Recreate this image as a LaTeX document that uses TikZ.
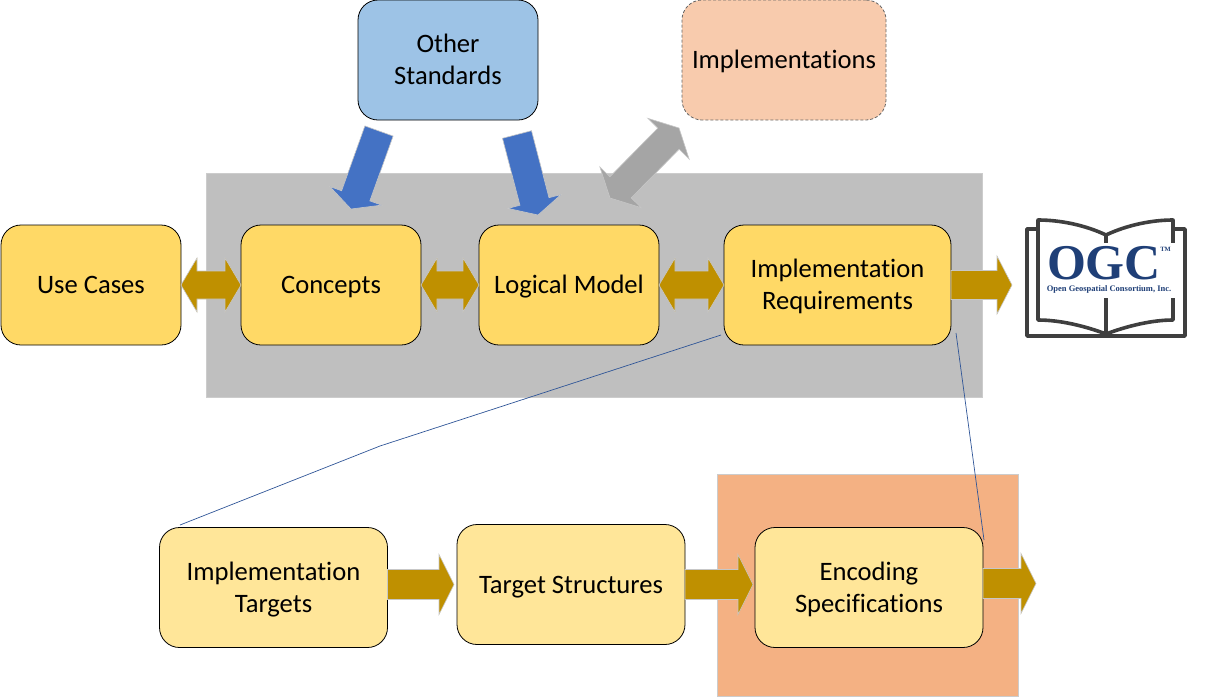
\documentclass[tikz,border=0pt]{standalone}
\usepackage{fontspec}
\setmainfont{Carlito}[Ligatures=NoCommon]
\newfontfamily\logofont{Liberation Serif}
\usetikzlibrary{calc}
\definecolor{panelgray}{HTML}{BFBFBF}
\definecolor{panelorange}{HTML}{F4B183}
\definecolor{boxgold}{HTML}{FFD966}
\definecolor{boxpale}{HTML}{FFE699}
\definecolor{boxblue}{HTML}{9DC3E6}
\definecolor{boxpeach}{HTML}{F8CBAD}
\definecolor{amber}{HTML}{BF9000}
\definecolor{arrowblue}{HTML}{4472C4}
\definecolor{arrowgray}{HTML}{A5A5A5}
\definecolor{linkblue}{HTML}{2F5597}
\definecolor{ogcblue}{HTML}{1F3F77}
\definecolor{bookgray}{HTML}{3F3F3F}
\newcommand{\lineprop}{\rule[-6pt]{0pt}{29pt}}
\tikzset{
  box/.style={draw=black,line width=0.8pt,rounded corners=20pt,minimum height=120pt,
    align=center,font=\fontsize{26.6}{32}\selectfont,inner sep=0pt,outer sep=0pt},
  panel/.style={draw=black!20,line width=0.8pt},
  fatamber/.style={fill=amber,draw=black!22,line width=0.6pt},
  fatblue/.style={fill=arrowblue,draw=black!22,line width=0.6pt},
  fatgray/.style={fill=arrowgray,draw=black!22,line width=0.6pt},
  link/.style={draw=linkblue,line width=0.7pt},
  book/.style={draw=bookgray,line width=3.6pt,line join=round}
}
% block arrows: #4 half body, #5 half head, #6 head length
\newcommand{\fatone}[6][fatamber]{
\coordinate (hb) at ($(#3)!#6pt!(#2)$);
\path[#1] ($(#2)!#4pt!90:(#3)$) -- ($(hb)!#4pt!90:(#3)$) -- ($(hb)!#5pt!90:(#3)$) -- (#3)
  -- ($(hb)!#5pt!-90:(#3)$) -- ($(hb)!#4pt!-90:(#3)$) -- ($(#2)!#4pt!-90:(#3)$) -- cycle;
}
\newcommand{\fattwo}[6][fatamber]{
\coordinate (hb) at ($(#3)!#6pt!(#2)$);
\coordinate (ha) at ($(#2)!#6pt!(#3)$);
\path[#1] (#2) -- ($(ha)!#5pt!-90:(#3)$) -- ($(ha)!#4pt!-90:(#3)$) -- ($(hb)!#4pt!-90:(#3)$) -- ($(hb)!#5pt!-90:(#3)$) -- (#3)
  -- ($(hb)!#5pt!90:(#3)$) -- ($(hb)!#4pt!90:(#3)$) -- ($(ha)!#4pt!90:(#3)$) -- ($(ha)!#5pt!90:(#3)$) -- cycle;
}
\begin{document}
\begin{tikzpicture}[x=1pt,y=-1pt]
\useasboundingbox (0,0) rectangle (1214,697);
% backgrounds
\fill[panelgray,panel] (206,173.5) rectangle (982,397);
\fill[panelorange,panel] (717,474) rectangle (1018,696);
% top row
\node[box,fill=boxgold,minimum width=180pt] (usecases) at (91,285) {\lineprop Use Cases};
\node[box,fill=boxgold,minimum width=180pt] (concepts) at (331,285) {\lineprop Concepts};
\node[box,fill=boxgold,minimum width=180pt] (logical) at (569,285) {\lineprop Logical Model};
\node[box,fill=boxgold,minimum width=227pt] (impreq) at (837.5,285) {\lineprop Implementation\\\lineprop Requirements};
\node[box,fill=boxblue,minimum width=180pt] (standards) at (448,60) {\lineprop Other\\\lineprop Standards};
\node[box,fill=boxpeach,minimum width=204pt,draw=black!60,densely dashed] (impls) at (784,60) {\lineprop Implementations};
% bottom row
\node[box,fill=boxpale,minimum width=228pt] (targets) at (273.5,587.5) {\lineprop Implementation\\\lineprop Targets};
\node[box,fill=boxpale,minimum width=228pt] (structures) at (571,584.5) {\lineprop Target Structures};
\node[box,fill=boxpale,minimum width=228pt] (encoding) at (869,587.5) {\lineprop Encoding\\\lineprop Specifications};
% block arrows
\fattwo{usecases.east}{concepts.west}{14}{27}{16}
\fattwo{concepts.east}{logical.west}{14}{27}{16}
\fattwo{logical.east}{impreq.west}{14}{27}{16}
\coordinate (publish) at (1012,285);
\fatone{impreq.east}{publish}{14.5}{29}{15}
\coordinate (tgtout) at ($(structures.west)+(-3,0)$);
\fatone{targets.east |- structures.west}{tgtout}{15}{30}{15}
\coordinate (strout) at ($(encoding.west |- structures.east)+(-2,0)$);
\fatone{structures.east}{strout}{15}{30}{15}
\coordinate (encout) at (1036,583.5);
\fatone{encoding.east |- encout}{encout}{15}{30}{15}
\coordinate (stdA) at (379,131);
\coordinate (conA) at (351,209);
\fatone[fatblue]{stdA}{conA}{15}{27.5}{14}
\coordinate (stdB) at (517,134.5);
\coordinate (logB) at (538,215);
\fatone[fatblue]{stdB}{logB}{15}{27.5}{14}
\coordinate (implA) at (679,128);
\coordinate (implB) at (610,198);
\fattwo[fatgray]{implB}{implA}{15}{29}{15}
% zoom lines
\coordinate (kneeA) at (380,446);
\coordinate (fromA) at (721,335);
\coordinate (toA) at (180,525);
\coordinate (fromB) at (956,333);
\coordinate (toB) at (984,540);
\draw[link] (fromA) -- (kneeA) -- (toA);
\draw[link] (fromB) -- (toB);
% logo
\draw[book] (1038,229) -- (1027,229) -- (1027,336) -- (1185,336) -- (1185,229) -- (1173,229);
\draw[book] (1106,235) .. controls (1085,225) and (1060,220) .. (1038,220) -- (1038,320)
  .. controls (1060,320) and (1085,326) .. (1106,334) .. controls (1127,326) and (1152,320) .. (1173,320)
  -- (1173,220) .. controls (1152,220) and (1127,225) .. (1106,235) -- (1106,334);
\fill[white] (1048,243) rectangle (1175,298);
\node[text=ogcblue,font=\logofont\bfseries\fontsize{50}{50}\selectfont,inner sep=0pt] (ogc) at (1104,263) {OGC};
\node[text=ogcblue,font=\logofont\bfseries\fontsize{6.5}{7}\selectfont,inner sep=0pt] (tm) at (1165.5,249) {TM};
\node[text=ogcblue,font=\logofont\bfseries\fontsize{8.5}{9}\selectfont,inner sep=0pt] (ogcname) at (1109,289) {Open Geospatial Consortium, Inc.};
\end{tikzpicture}
\end{document}
